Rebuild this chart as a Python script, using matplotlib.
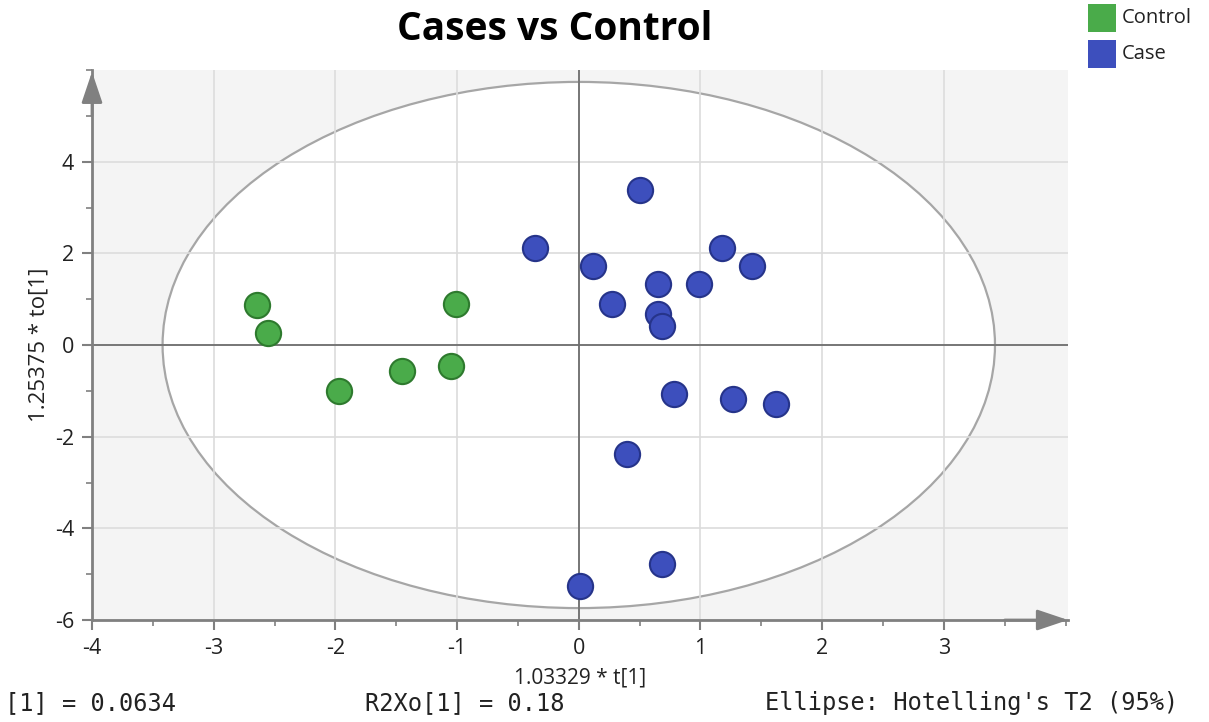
import matplotlib
matplotlib.use("Agg")
import matplotlib.pyplot as plt
from matplotlib.patches import Ellipse, Rectangle
from matplotlib.ticker import MultipleLocator

# ---- data ----
control_x = [-2.646, -2.555, -1.972, -1.454, -1.052, -1.011]
control_y = [0.87, 0.26, -1.00, -0.57, -0.46, 0.90]
case_x = [0.50, -0.36, 0.12, 1.175, 1.42, 0.65, 0.99, 0.27, 0.65, 0.68,
          0.78, 1.27, 1.62, 0.40, 0.68, 0.01]
case_y = [3.38, 2.12, 1.72, 2.12, 1.72, 1.33, 1.33, 0.90, 0.68, 0.41,
          -1.07, -1.18, -1.29, -2.38, -4.78, -5.26]
ellipse_a = 3.42
ellipse_b = 5.74
x_ticks = [-4, -3, -2, -1, 0, 1, 2, 3]
y_ticks = [-6, -4, -2, 0, 2, 4]
title = "Cases vs Control"
xlabel = "1.03329 * t[1]"
ylabel = "1.25375 * to[1]"
footer = ["[1] = 0.0634", "R2Xo[1] = 0.18", "Ellipse: Hotelling's T2 (95%)"]

GREEN = "#4aab4a"
GREEN_E = "#2e7a2e"
BLUE = "#3d4fbd"
BLUE_E = "#26348a"
AXC = "#808080"

plt.rcParams['font.family'] = ['Open Sans', 'DejaVu Sans']
plt.rcParams['axes.unicode_minus'] = False

W, H = 1209, 722
fig = plt.figure(figsize=(W / 100, H / 100), dpi=100)
ax = fig.add_axes([92 / W, (H - 620) / H, (1068 - 92) / W, (620 - 70) / H])
ax.set_facecolor("#f4f4f4")
ax.set_xlim(-4, 4.02)
ax.set_ylim(-6, 6.0)

ax.add_patch(Ellipse((0, 0), 2 * ellipse_a, 2 * ellipse_b, facecolor="white",
                     edgecolor="#a6a6a6", lw=1.6, zorder=0.3))
ax.set_axisbelow(True)
ax.set_xticks(x_ticks)
ax.set_yticks(y_ticks)
ax.xaxis.set_minor_locator(MultipleLocator(0.5))
ax.yaxis.set_minor_locator(MultipleLocator(1))
ax.grid(True, which="major", color="#dcdcdc", lw=1.2)
ax.axhline(0, color="#6e6e6e", lw=1.3, zorder=0.8)
ax.axvline(0, color="#6e6e6e", lw=1.3, zorder=0.8)

for s in ["top", "right"]:
    ax.spines[s].set_visible(False)
for s in ["left", "bottom"]:
    ax.spines[s].set_color(AXC)
    ax.spines[s].set_linewidth(2)
ax.tick_params(which="major", length=7, width=1.5, color=AXC,
               labelsize=15.5, labelcolor="#222222", pad=6)
ax.tick_params(which="minor", length=4, width=1.2, color=AXC)

# arrows at spine ends
arrow_style = "-|>,head_length=0.95,head_width=0.32"
ax.annotate("", xy=(-4, 5.96), xytext=(-4, 5.0), xycoords="data",
            arrowprops=dict(arrowstyle=arrow_style, color=AXC, lw=2,
                            mutation_scale=20, shrinkA=0, shrinkB=0),
            annotation_clip=False)
ax.annotate("", xy=(4.02, -6), xytext=(3.5, -6), xycoords="data",
            arrowprops=dict(arrowstyle=arrow_style, color=AXC, lw=2,
                            mutation_scale=20, shrinkA=0, shrinkB=0),
            annotation_clip=False)

ax.scatter(control_x, control_y, s=330, c=GREEN, edgecolors=GREEN_E,
           linewidths=1.5, zorder=3)
ax.scatter(case_x, case_y, s=330, c=BLUE, edgecolors=BLUE_E,
           linewidths=1.5, zorder=3)

ax.set_xlabel(xlabel, fontsize=15, labelpad=6, color="#222222")
ax.set_ylabel(ylabel, fontsize=16, labelpad=4, color="#222222")

fig.text(555 / W, 1 - 30 / H, title, fontsize=28, fontweight="bold",
         ha="center", va="center", color="black")

# legend
for i, (lab, col) in enumerate([("Control", GREEN), ("Case", BLUE)]):
    y0 = 4 + 36 * i
    fig.patches.append(Rectangle((1088 / W, 1 - (y0 + 28) / H), 28 / W, 28 / H,
                                 transform=fig.transFigure, facecolor=col,
                                 edgecolor="none"))
    fig.text(1122 / W, 1 - (y0 + 14) / H, lab, fontsize=14.5, va="center",
             ha="left", color="#222222")

# footer
for txt, xp in zip(footer, [5, 365, 765]):
    fig.text(xp / W, 1 - 703 / H, txt, fontsize=17, va="center", ha="left",
             family="DejaVu Sans Mono", color="#222222")

fig.savefig("out.png", dpi=100)
